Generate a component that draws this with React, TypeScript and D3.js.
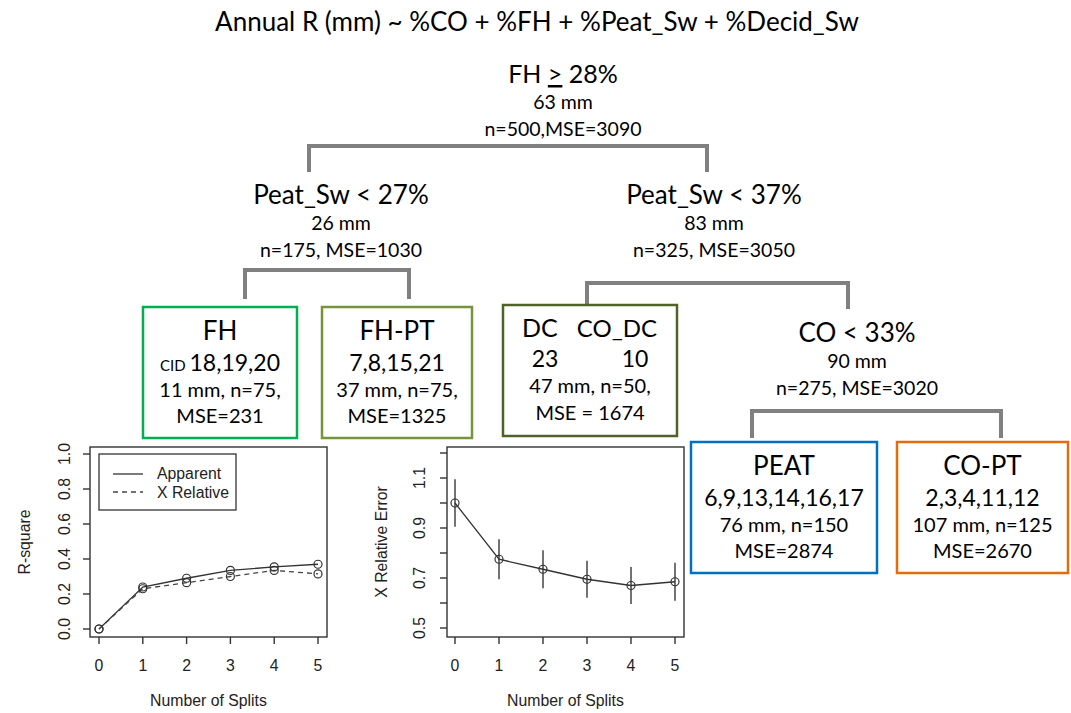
import React from 'react';
import * as d3 from 'd3';

// ---- tree content ----
const title = 'Annual R (mm) ~ %CO + %FH + %Peat_Sw + %Decid_Sw';

const splitRules = ['FH > 28%', 'Peat_Sw < 27%', 'Peat_Sw < 37%', 'CO < 33%'];
const splitMeans = ['63 mm', '26 mm', '83 mm', '90 mm'];
const splitStats = ['n=500,MSE=3090', 'n=175, MSE=1030', 'n=325, MSE=3050', 'n=275, MSE=3020'];

const leafNames = ['FH', 'FH-PT', 'DC|CO_DC', 'PEAT', 'CO-PT'];
const leafCids = ['18,19,20', '7,8,15,21', '23|10', '6,9,13,14,16,17', '2,3,4,11,12'];
const leafMeans = ['11 mm, n=75,', '37 mm, n=75,', '47 mm, n=50,', '76 mm, n=150', '107 mm, n=125'];
const leafMse = ['MSE=231', 'MSE=1325', 'MSE = 1674', 'MSE=2874', 'MSE=2670'];
const leafColors = ['#00B050', '#77933C', '#4F6228', '#0070C0', '#E46C0A'];

// ---- pruning plots ----
const splits = [0, 1, 2, 3, 4, 5];
const rsqApparent = [0, 0.24, 0.29, 0.335, 0.355, 0.37];
const rsqXRelative = [0, 0.23, 0.265, 0.3, 0.335, 0.315];
const xRelError = [1.0, 0.775, 0.735, 0.695, 0.67, 0.685];
const xRelSE = [0.095, 0.08, 0.076, 0.074, 0.074, 0.076];
const rsqTicks = [0, 0.2, 0.4, 0.6, 0.8, 1.0];
const errTicks = [0.5, 0.6, 0.7, 0.8, 0.9, 1.0, 1.1, 1.2];
const errLabelled = [0.5, 0.7, 0.9, 1.1];

const W = 1071;
const H = 713;
const TREE_FONT = "Lato, 'Open Sans', sans-serif";
const PLOT_FONT = "'Liberation Sans', Arial, sans-serif";
const PLOT_FS = 15.8;
const CONNECT = '#808080';

// layout of the split nodes (centre x, baseline of rule line)
const splitPos = [
  { x: 563, y: 83 },
  { x: 341, y: 204 },
  { x: 714, y: 204 },
  { x: 857, y: 342 },
];
// leaf boxes
const leafBox = [
  { x: 143, y: 307, w: 154, h: 131 },
  { x: 322, y: 307, w: 150, h: 131 },
  { x: 503, y: 305, w: 174, h: 131 },
  { x: 691, y: 442, w: 186, h: 131 },
  { x: 897, y: 442, w: 171, h: 131 },
];
// elbow connectors: horizontal y, the two drop x's and their end y's
const connectors = [
  { y: 146, x1: 309, x2: 707, e1: 172, e2: 172 },
  { y: 270, x1: 245, x2: 409, e1: 299, e2: 299 },
  { y: 283, x1: 587, x2: 848, e1: 305, e2: 309 },
  { y: 411, x1: 752, x2: 1001, e1: 438, e2: 438 },
];

const Tree: React.FC = () => (
  <g fontFamily={TREE_FONT} fill="#000" textAnchor="middle">
    <text x={537} y={31} fontSize={26}>{title}</text>

    {connectors.map((c, i) => (
      <path
        key={'c' + i}
        d={`M${c.x1},${c.e1}V${c.y}H${c.x2}V${c.e2}`}
        fill="none"
        stroke={CONNECT}
        strokeWidth={4}
      />
    ))}

    {splitRules.map((r, i) => {
      const p = splitPos[i];
      const isRoot = i === 0;
      return (
        <g key={'s' + i}>
          {isRoot ? (
            <text x={p.x} y={p.y} fontSize={25}>
              FH <tspan textDecoration="underline">&gt;</tspan> 28%
            </text>
          ) : (
            <text x={p.x} y={p.y} fontSize={26}>{r}</text>
          )}
          <text x={p.x} y={p.y + 26} fontSize={19.5}>{splitMeans[i]}</text>
          <text x={p.x} y={p.y + 53} fontSize={19.5}>{splitStats[i]}</text>
        </g>
      );
    })}

    {leafNames.map((name, i) => {
      const b = leafBox[i];
      const cx = b.x + b.w / 2;
      const two = name.includes('|');
      const [n1, n2] = name.split('|');
      const [c1, c2] = leafCids[i].split('|');
      return (
        <g key={'l' + i}>
          <rect x={b.x} y={b.y} width={b.w} height={b.h} fill="#fff" stroke={leafColors[i]} strokeWidth={2.5} />
          {two ? (
            <>
              <text x={b.x + 19} y={b.y + 32} fontSize={25} textAnchor="start">{n1}</text>
              <text x={b.x + 154} y={b.y + 32} fontSize={24} textAnchor="end">{n2}</text>
              <text x={b.x + 42} y={b.y + 62} fontSize={23}>{c1}</text>
              <text x={b.x + 132} y={b.y + 62} fontSize={23}>{c2}</text>
            </>
          ) : (
            <>
              <text x={cx} y={b.y + 33} fontSize={26}>{name}</text>
              {i === 0 ? (
                <text x={cx} y={b.y + 64} fontSize={23}>
                  <tspan fontSize={15}>CID </tspan>{leafCids[i]}
                </text>
              ) : (
                <text x={cx} y={b.y + 64} fontSize={23}>{leafCids[i]}</text>
              )}
            </>
          )}
          <text x={cx} y={b.y + (two ? 88 : 90)} fontSize={20}>{leafMeans[i]}</text>
          <text x={cx} y={b.y + (two ? 115 : 116)} fontSize={20}>{leafMse[i]}</text>
        </g>
      );
    })}
  </g>
);

const RSquarePlot: React.FC = () => {
  const box = { x0: 90, x1: 327, y0: 447, y1: 637 };
  const x = d3.scaleLinear().domain([0, 5]).range([99, 318]);
  const y = d3.scaleLinear().domain([0, 1]).range([629, 454]);
  const line = d3.line<number>().x((_, i) => x(splits[i])).y(d => y(d));
  return (
    <g fontFamily={PLOT_FONT} fontSize={PLOT_FS} fill="#222">
      <rect x={box.x0} y={box.y0} width={box.x1 - box.x0} height={box.y1 - box.y0} fill="none" stroke="#333" strokeWidth={1.4} />
      {rsqTicks.map(t => (
        <g key={t}>
          <line x1={box.x0} x2={box.x0 - 7} y1={y(t)} y2={y(t)} stroke="#333" strokeWidth={1.4} />
          <text transform={`translate(70,${y(t)}) rotate(-90)`} textAnchor="middle">{d3.format('.1f')(t)}</text>
        </g>
      ))}
      {splits.map(s => (
        <g key={s}>
          <line x1={x(s)} x2={x(s)} y1={box.y1} y2={box.y1 + 7} stroke="#333" strokeWidth={1.4} />
          <text x={x(s)} y={671} textAnchor="middle">{s}</text>
        </g>
      ))}
      <text transform={`translate(30,${(box.y0 + box.y1) / 2}) rotate(-90)`} textAnchor="middle">R-square</text>
      <text x={(box.x0 + box.x1) / 2} y={706} textAnchor="middle">Number of Splits</text>

      <path d={line(rsqApparent) || ''} fill="none" stroke="#333" strokeWidth={1.3} />
      <path d={line(rsqXRelative) || ''} fill="none" stroke="#444" strokeWidth={1.3} strokeDasharray="5,4" />
      {rsqApparent.map((v, i) => (
        <circle key={'a' + i} cx={x(splits[i])} cy={y(v)} r={4} fill="none" stroke="#333" strokeWidth={1.2} />
      ))}
      {rsqXRelative.map((v, i) => (
        <circle key={'r' + i} cx={x(splits[i])} cy={y(v)} r={4} fill="none" stroke="#333" strokeWidth={1.2} />
      ))}

      <rect x={99} y={454} width={137} height={56} fill="#fff" stroke="#333" strokeWidth={1.3} />
      <line x1={113} x2={143} y1={474} y2={474} stroke="#333" strokeWidth={1.3} />
      <line x1={113} x2={143} y1={492} y2={492} stroke="#444" strokeWidth={1.3} strokeDasharray="5,4" />
      <text x={157} y={479}>Apparent</text>
      <text x={157} y={498}>X Relative</text>
    </g>
  );
};

const ErrorPlot: React.FC = () => {
  const box = { x0: 447, x1: 684, y0: 447, y1: 637 };
  const x = d3.scaleLinear().domain([0, 5]).range([455, 675]);
  const y = d3.scaleLinear().domain([0.5, 1.1]).range([628, 478]);
  const line = d3.line<number>().x((_, i) => x(splits[i])).y(d => y(d));
  return (
    <g fontFamily={PLOT_FONT} fontSize={PLOT_FS} fill="#222">
      <rect x={box.x0} y={box.y0} width={box.x1 - box.x0} height={box.y1 - box.y0} fill="none" stroke="#333" strokeWidth={1.4} />
      {errTicks.map(t => (
        <g key={t}>
          <line x1={box.x0} x2={box.x0 - 7} y1={y(t)} y2={y(t)} stroke="#333" strokeWidth={1.4} />
          {errLabelled.includes(t) && (
            <text transform={`translate(425,${y(t)}) rotate(-90)`} textAnchor="middle">{d3.format('.1f')(t)}</text>
          )}
        </g>
      ))}
      {splits.map(s => (
        <g key={s}>
          <line x1={x(s)} x2={x(s)} y1={box.y1} y2={box.y1 + 7} stroke="#333" strokeWidth={1.4} />
          <text x={x(s)} y={671} textAnchor="middle">{s}</text>
        </g>
      ))}
      <text transform={`translate(387,${(box.y0 + box.y1) / 2}) rotate(-90)`} textAnchor="middle">X Relative Error</text>
      <text x={(box.x0 + box.x1) / 2} y={706} textAnchor="middle">Number of Splits</text>

      {xRelError.map((v, i) => (
        <line key={'e' + i} x1={x(splits[i])} x2={x(splits[i])} y1={y(v - xRelSE[i])} y2={y(v + xRelSE[i])} stroke="#444" strokeWidth={1.5} />
      ))}
      <path d={line(xRelError) || ''} fill="none" stroke="#333" strokeWidth={1.3} />
      {xRelError.map((v, i) => (
        <circle key={'p' + i} cx={x(splits[i])} cy={y(v)} r={4} fill="none" stroke="#333" strokeWidth={1.2} />
      ))}
    </g>
  );
};

const App: React.FC = () => (
  <svg
    width={W}
    height={H}
    viewBox={`0 0 ${W} ${H}`}
    style={{ position: 'absolute', left: 0, top: 0, background: '#fff' }}
  >
    <rect width={W} height={H} fill="#fff" />
    <Tree />
    <RSquarePlot />
    <ErrorPlot />
  </svg>
);

export default App;
